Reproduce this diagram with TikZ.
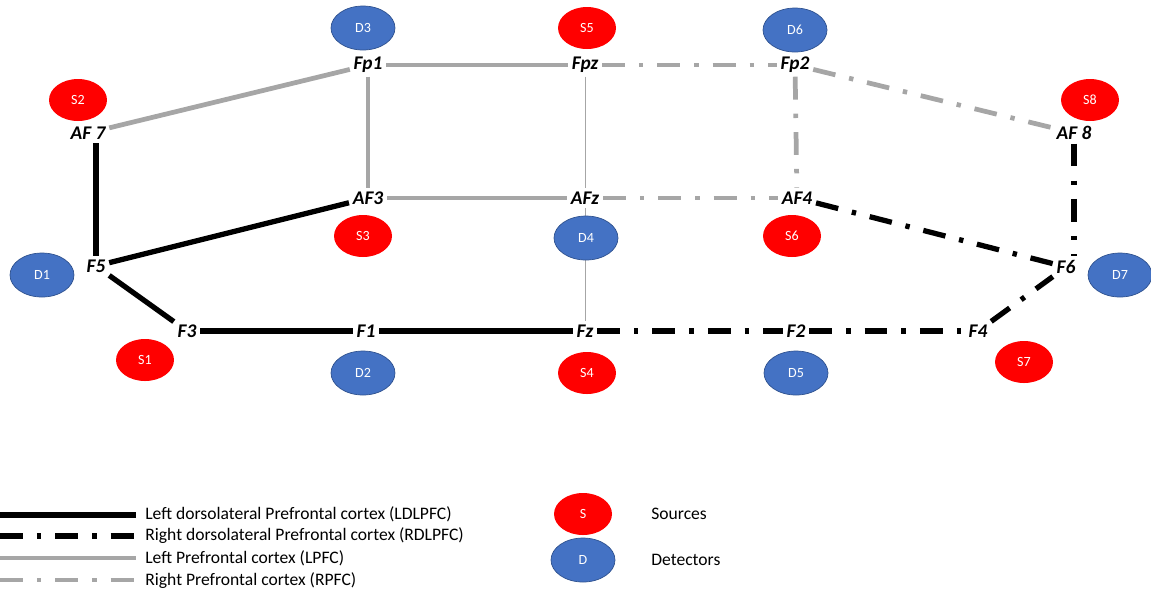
\documentclass[tikz,border=0pt]{standalone}
\usepackage{fontspec}
\setmainfont{Carlito}
\usepackage{xcolor}
\definecolor{azul}{RGB}{68, 114, 196}
\definecolor{azulborda}{RGB}{47, 82, 143}
\definecolor{cinza}{RGB}{166, 166, 166}
\usetikzlibrary{shapes, positioning}

\begin{document}
\begin{tikzpicture}[x=0.02cm, y=-0.02cm,
	elec/.style = {font=\fontsize{11}{13}\selectfont\bfseries\itshape, inner sep=2pt},
	fonte/.style = {ellipse, fill=red, text=white, minimum width=1.16cm, minimum height=0.84cm, inner sep=0pt, font=\fontsize{8}{9}\selectfont},
	detector/.style = {fonte, fill=azul, draw=azulborda, thin, minimum width=1.28cm, minimum height=0.88cm},
	esq/.style = {line width=3pt, black},
	dir/.style = {esq, dash pattern=on 13pt off 8pt on 2.5pt off 8pt},
	lesq/.style = {line width=2.7pt, cinza},
	ldir/.style = {lesq, dash pattern=on 13pt off 8pt on 2.5pt off 8pt},
	legenda/.style = {font=\fontsize{10}{12}\selectfont, anchor=west, inner sep=0pt}]
			
			\useasboundingbox (0,0) rectangle (1151,593);
			
			% electrodes
			\node [elec] (Fp1) at (368, 65) {Fp1};
			\node [elec] (Fpz) at (585, 65) {Fpz};
			\node [elec] (Fp2) at (795, 65) {Fp2};
			\node [elec] (AF7) at (88, 133) {AF 7};
			\node [elec] (AF8) at (1074, 133) {AF 8};
			\node [elec] (AF3) at (368, 198) {AF3};
			\node [elec] (AFz) at (585, 198) {AFz};
			\node [elec] (AF4) at (797, 198) {AF4};
			\node [elec] (F5) at (96, 266) {F5};
			\node [elec] (F6) at (1066, 267) {F6};
			\node [elec] (F3) at (187, 331) {F3};
			\node [elec] (F1) at (366, 331) {F1};
			\node [elec] (Fz) at (585, 331) {Fz};
			\node [elec] (F2) at (796, 331) {F2};
			\node [elec] (F4) at (978, 331) {F4};
			
			\draw [cinza, thin] (Fpz) -- (AFz);
			\draw [cinza, thin] (AFz) -- (Fz);
			
			\draw [lesq] (AF7) -- (Fp1);
			\draw [lesq] (Fp1) -- (Fpz);
			\draw [lesq] (Fp1) -- (AF3);
			\draw [lesq] (AF3) -- (AFz);
			
			\draw [ldir] (Fpz) -- (Fp2);
			\draw [ldir] (Fp2) -- (AF8);
			\draw [ldir] (Fp2) -- (AF4);
			\draw [ldir] (AFz) -- (AF4);
			
			\draw [esq] (F5 |- AF7.south) -- (F5);
			\draw [esq] (F5) -- (AF3);
			\draw [esq] (F5) -- (F3);
			\draw [esq] (F3) -- (F1);
			\draw [esq] (F1) -- (Fz);
			
			\draw [dir] (Fz) -- (F2);
			\draw [dir] (F2) -- (F4);
			\draw [dir] (F4) -- (F6);
			\draw [dir] (AF4) -- (F6);
			\draw [dir] (AF8) -- (AF8 |- F6.north);
			
			% sources and detectors
			\node [detector] (D3) at (363, 28) {D3};
			\node [fonte] (S5) at (587, 28) {S5};
			\node [detector] (D6) at (795, 30) {D6};
			\node [fonte] (S2) at (78, 100) {S2};
			\node [fonte] (S8) at (1090, 100) {S8};
			\node [fonte] (S3) at (363, 236) {S3};
			\node [detector] (D4) at (586, 238) {D4};
			\node [fonte] (S6) at (792, 236) {S6};
			\node [detector] (D1) at (42, 275) {D1};
			\node [detector] (D7) at (1120, 275) {D7};
			\node [fonte] (S1) at (145, 360) {S1};
			\node [detector] (D2) at (363, 373) {D2};
			\node [fonte] (S4) at (587, 373) {S4};
			\node [detector] (D5) at (796, 373) {D5};
			\node [fonte] (S7) at (1024, 362) {S7};
			
			% legend
			\node [legenda] (tesq) at (145, 514) {Left dorsolateral Prefrontal cortex (LDLPFC)};
			\node [legenda] (tdir) at (145, 536) {Right dorsolateral Prefrontal cortex (RDLPFC)};
			\node [legenda] (tlesq) at (145, 558) {Left Prefrontal cortex (LPFC)};
			\node [legenda] (tldir) at (145, 581) {Right Prefrontal cortex (RPFC)};
			\coordinate (cesq) at (0, 515);
			\coordinate (cdir) at (0, 536);
			\coordinate (clesq) at (0, 558);
			\coordinate (cldir) at (0, 580);
			\draw [esq] (cesq) -- ([xshift=-5pt] tesq.west |- cesq);
			\draw [dir] (cdir) -- ([xshift=-5pt] tdir.west |- cdir);
			\draw [lesq] (clesq) -- ([xshift=-5pt] tlesq.west |- clesq);
			\draw [ldir] (cldir) -- ([xshift=-5pt] tldir.west |- cldir);
			
			\node [fonte] (S) at (583, 514) {S};
			\node [detector] (D) at (583, 560) {D};
			\node [legenda] (sources) at (651, 514) {Sources};
			\node [legenda] (detectors) at (651, 560) {Detectors};
		\end{tikzpicture}
\end{document}
